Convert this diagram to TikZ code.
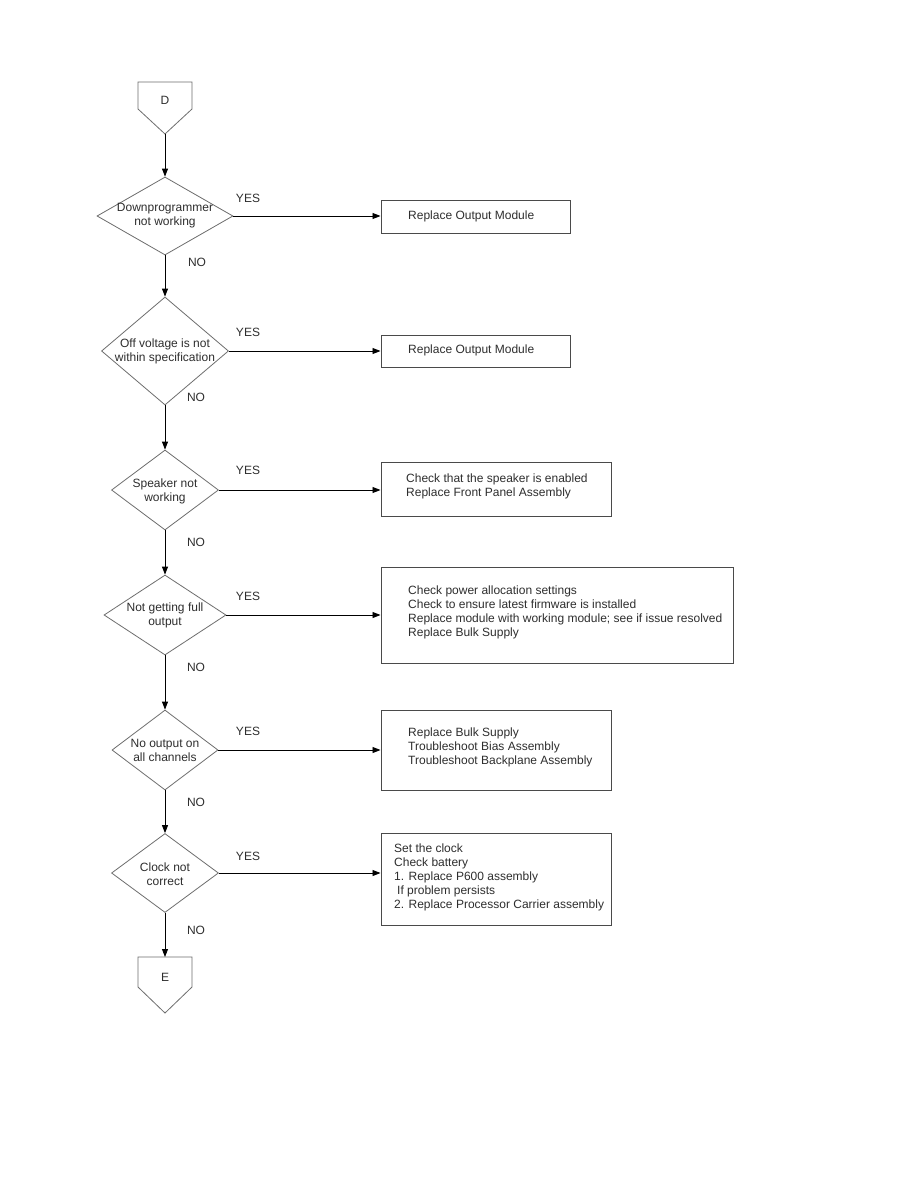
\documentclass[tikz,border=0pt]{standalone}
\usepackage{fontspec}
\setmainfont{Liberation Sans}
\usetikzlibrary{shapes.geometric,arrows.meta}
\definecolor{txtc}{HTML}{2E2E2E}
\definecolor{dgray}{HTML}{6E6E6E}
\definecolor{bgray}{HTML}{4A4A4A}
\begin{document}
\begin{tikzpicture}[x=1pt,y=-1pt,
  every node/.style={font=\fontsize{12}{14}\selectfont, text=txtc},
  dec/.style={draw=dgray, line width=0.8pt, diamond, inner sep=0pt},
  boxn/.style={draw=bgray, line width=1pt, rectangle, inner sep=0pt},
  lbl/.style={inner sep=0pt},
  arr/.style={draw=black, line width=0.9pt, -{Triangle[length=8pt,width=6pt]}},
  conn/.style={draw=dgray, line width=0.8pt}
]
\useasboundingbox[fill=white] (0,0) rectangle (918,1188);

% off-page connector D
\draw[conn] (138,82) -- (192,82) -- (192,109) -- (165,134) -- (138,109) -- cycle;
\coordinate (Dtip) at (165,134);
\node[lbl] (Dl) at (165,100) {D};

% decisions
\node[dec, minimum width=136, minimum height=78] (d1) at (165,216) {};
\node[lbl, align=center] (t1) at (165,216) {Downprogrammer\\not working};
\node[dec, minimum width=127, minimum height=108] (d2) at (165,351) {};
\node[lbl, align=center] (t2) at (165,351) {Off voltage is not\\within specification};
\node[dec, minimum width=107, minimum height=80] (d3) at (165,490) {};
\node[lbl, align=center] (t3) at (165,491) {Speaker not\\working};
\node[dec, minimum width=122, minimum height=80] (d4) at (165,615) {};
\node[lbl, align=center] (t4) at (165,615) {Not getting full\\output};
\node[dec, minimum width=106, minimum height=80] (d5) at (165,750) {};
\node[lbl, align=center] (t5) at (165,750) {No output on\\all channels};
\node[dec, minimum width=107, minimum height=79] (d6) at (165,873) {};
\node[lbl, align=center] (t6) at (165,874) {Clock not\\correct};

% off-page connector E
\draw[conn] (138,957) -- (192,957) -- (192,987) -- (165,1013) -- (138,987) -- cycle;
\coordinate (Etop) at (165,957);
\node[lbl] (El) at (165,977) {E};

% action boxes
\node[boxn, minimum width=189, minimum height=33] (b1) at (475.5,216.5) {};
\node[lbl, anchor=west] (a1) at (408,216) {Replace Output Module};
\node[boxn, minimum width=189, minimum height=32] (b2) at (475.5,351) {};
\node[lbl, anchor=west] (a2) at (408,350) {Replace Output Module};
\node[boxn, minimum width=230, minimum height=54] (b3) at (496,489) {};
\node[lbl, anchor=west, align=left] (a3) at (406,486.5) {Check that the speaker is enabled\\Replace Front Panel Assembly};
\node[boxn, minimum width=352, minimum height=96] (b4) at (557,615) {};
\node[lbl, anchor=west, align=left] (a4) at (408,612) {Check power allocation settings\\Check to ensure latest firmware is installed\\Replace module with working module; see if issue resolved\\Replace Bulk Supply};
\node[boxn, minimum width=230, minimum height=80] (b5) at (496,750) {};
\node[lbl, anchor=west, align=left] (a5) at (408,747) {Replace Bulk Supply\\Troubleshoot Bias Assembly\\Troubleshoot Backplane Assembly};
\node[boxn, minimum width=230, minimum height=92] (b6) at (496,879) {};
\node[lbl, anchor=west, align=left] (a6) at (394,877) {Set the clock\\Check battery\\1. Replace P600 assembly\\\hspace{3pt}If problem persists\\2. Replace Processor Carrier assembly};

% vertical flow
\draw[arr] (Dtip) -- (d1.north);
\draw[arr] (d1.south) -- (d2.north);
\draw[arr] (d2.south) -- (d3.north);
\draw[arr] (d3.south) -- (d4.north);
\draw[arr] (d4.south) -- (d5.north);
\draw[arr] (d5.south) -- (d6.north);
\draw[arr] (d6.south) -- (Etop);

% YES branches
\draw[arr] (d1.east) -- (d1.east -| b1.west);
\draw[arr] (d2.east) -- (d2.east -| b2.west);
\draw[arr] (d3.east) -- (d3.east -| b3.west);
\draw[arr] (d4.east) -- (d4.east -| b4.west);
\draw[arr] (d5.east) -- (d5.east -| b5.west);
\draw[arr] (d6.east) -- (d6.east -| b6.west);

% labels
\node[lbl] (y1) at (248,198) {YES};
\node[lbl] (n1) at (197,262) {NO};
\node[lbl] (y2) at (248,332) {YES};
\node[lbl] (n2) at (196,397) {NO};
\node[lbl] (y3) at (248,470) {YES};
\node[lbl] (n3) at (196,542) {NO};
\node[lbl] (y4) at (248,596) {YES};
\node[lbl] (n4) at (196,667) {NO};
\node[lbl] (y5) at (248,731) {YES};
\node[lbl] (n5) at (196,802) {NO};
\node[lbl] (y6) at (248,856) {YES};
\node[lbl] (n6) at (196,930) {NO};
\end{tikzpicture}
\end{document}
